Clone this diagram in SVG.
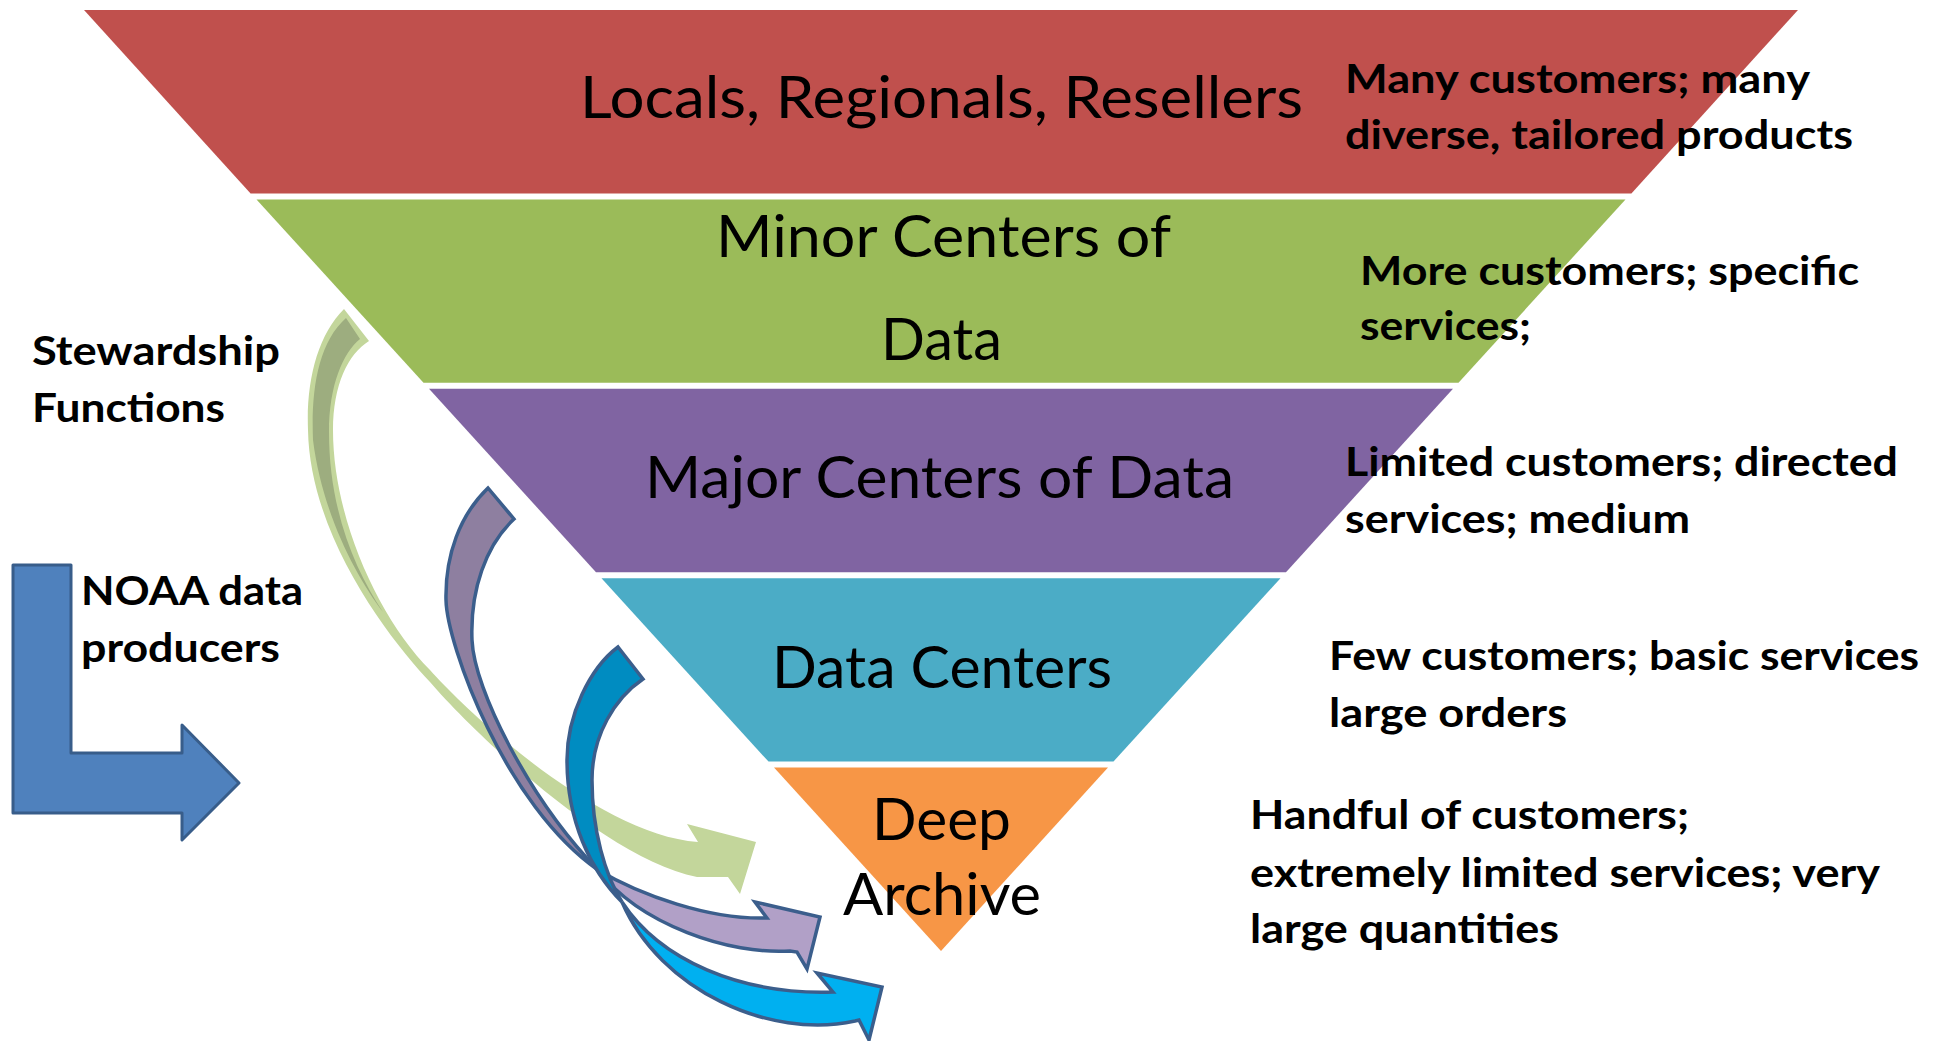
<svg xmlns="http://www.w3.org/2000/svg" width="1944" height="1041" viewBox="0 0 1944 1041">
<style>
.lbl{font-family:Lato,'Open Sans','Liberation Sans',sans-serif;font-size:58px;fill:#000;text-anchor:middle}
.desc{font-family:Lato,'Open Sans','Liberation Sans',sans-serif;font-size:41px;font-weight:700;fill:#000}
.ol{stroke:#3B5E8C;stroke-width:3.5;stroke-linejoin:miter}
</style>
<rect width="1944" height="1041" fill="#fff"/>

<g id="tier-locals">
<polygon points="84,10 1798,10 1631.4,193.4 250.6,193.4" fill="#C0504D"/>
<text class="lbl" x="941.5" y="118" textLength="723" lengthAdjust="spacingAndGlyphs">Locals, Regionals, Resellers</text>
</g>
<g id="tier-minor">
<polygon points="256.5,199.4 1625.5,199.4 1458.5,382.8 423.5,382.8" fill="#9BBB59"/>
<text class="lbl" x="943.5" y="257" textLength="455" lengthAdjust="spacingAndGlyphs">Minor Centers of</text>
<text class="lbl" x="941.5" y="360" textLength="121" lengthAdjust="spacingAndGlyphs">Data</text>
</g>
<g id="tier-major">
<polygon points="429,388.8 1453,388.8 1286,572.2 596,572.2" fill="#8064A2"/>
<text class="lbl" x="939.5" y="498" textLength="589" lengthAdjust="spacingAndGlyphs">Major Centers of Data</text>
</g>
<g id="tier-datacenters">
<polygon points="601.5,578.2 1280.5,578.2 1113.5,761.6 768.5,761.6" fill="#4BACC6"/>
<text class="lbl" x="942" y="688" textLength="340" lengthAdjust="spacingAndGlyphs">Data Centers</text>
</g>
<g id="tier-archive">
<polygon points="774,767.6 1108,767.6 941,951" fill="#F79646"/>
<text class="lbl" x="941.5" y="840" textLength="139" lengthAdjust="spacingAndGlyphs">Deep</text>
<text class="lbl" x="942" y="915" textLength="198" lengthAdjust="spacingAndGlyphs">Archive</text>
</g>

<g id="desc-locals">
<text class="desc" x="1345" y="93" textLength="465" lengthAdjust="spacingAndGlyphs">Many customers; many</text>
<text class="desc" x="1345" y="149" textLength="508" lengthAdjust="spacingAndGlyphs">diverse, tailored products</text>
</g>
<g id="desc-minor">
<text class="desc" x="1360" y="285" textLength="499" lengthAdjust="spacingAndGlyphs">More customers; specific</text>
<text class="desc" x="1360" y="340" textLength="171" lengthAdjust="spacingAndGlyphs">services;</text>
</g>
<g id="desc-major">
<text class="desc" x="1345" y="476" textLength="553" lengthAdjust="spacingAndGlyphs">Limited customers; directed</text>
<text class="desc" x="1345" y="533" textLength="345" lengthAdjust="spacingAndGlyphs">services; medium</text>
</g>
<g id="desc-datacenters">
<text class="desc" x="1329" y="670" textLength="590" lengthAdjust="spacingAndGlyphs">Few customers; basic services</text>
<text class="desc" x="1329" y="727" textLength="238" lengthAdjust="spacingAndGlyphs">large orders</text>
</g>
<g id="desc-archive">
<text class="desc" x="1250" y="829" textLength="439" lengthAdjust="spacingAndGlyphs">Handful of customers;</text>
<text class="desc" x="1250" y="887" textLength="630" lengthAdjust="spacingAndGlyphs">extremely limited services; very</text>
<text class="desc" x="1250" y="943" textLength="309" lengthAdjust="spacingAndGlyphs">large quantities</text>
</g>

<g id="stewardship">
<text class="desc" x="32" y="365" textLength="248" lengthAdjust="spacingAndGlyphs">Stewardship</text>
<text class="desc" x="32" y="422" textLength="193" lengthAdjust="spacingAndGlyphs">Functions</text>
</g>
<g id="noaa-producers">
<polygon points="13,565 71,565 71,753 182,753 182,725 239,783 182,840 182,813 13,813" fill="#4F81BD" stroke="#385D8A" stroke-width="3" stroke-linejoin="round"/>
<text class="desc" x="81" y="605" textLength="222" lengthAdjust="spacingAndGlyphs">NOAA data</text>
<text class="desc" x="81" y="662" textLength="199" lengthAdjust="spacingAndGlyphs">producers</text>
</g>

<g id="connectors">
<g id="arrow-green">
<path d="M344,309 L369,341 C348,354 333,385 333,430 C333,520 380,620 430,670 C470,715 600,835 698,842 L687,824 L756,842 L740,894 L728,877 L697,877 C610,860 480,740 430,682 C395,645 310,540 308,430 C306,380 318,335 344,309 Z" fill="#C3D69B"/>
<path d="M346,318 L360,339 C343,353 329,385 329,432 C329,510 355,570 383,612 C355,575 322,512 313,440 C311,390 318,343 346,318 Z" fill="#9DAD7F"/>
</g>
<g id="arrow-purple">
<path class="ol" d="M488,488 L514,519 C486,545 470,590 472,640 C474,690 530,800 598,870 C505,805 447,645 446,600 C445,555 460,515 488,488 Z" fill="#8E7FA0"/>
<path class="ol" d="M598,870 C640,895 710,920 767,918 L755,902 L820,917 L807,969 L797,952 L790,951 C730,955 640,925 598,870 Z" fill="#B1A0C7"/>
</g>
<g id="arrow-blue">
<path class="ol" d="M618,647 L643,679 C615,698 592,735 592,780 C592,830 605,875 622,902 C590,870 567,820 567,760 C567,715 590,668 618,647 Z" fill="#008CC1"/>
<path class="ol" d="M622,902 C660,960 740,995 833,992 L817,973 L882,987 L869,1040 L859,1020 L855,1021 C770,1040 660,990 622,902 Z" fill="#00B0F0"/>
</g>
</g>
</svg>
